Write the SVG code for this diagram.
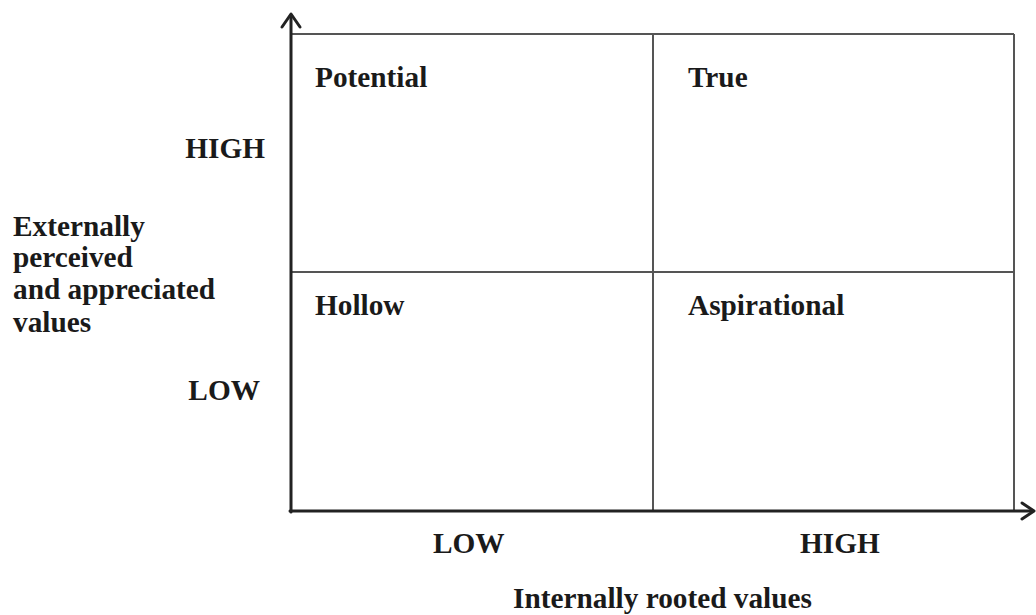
<svg xmlns="http://www.w3.org/2000/svg" width="1036" height="615" viewBox="0 0 1036 615">
<style>
.t{font-family:"Liberation Serif","Times New Roman",serif;font-weight:bold;font-size:29.3px;fill:#1a1a1a}
.g{stroke:#555;stroke-width:2;fill:none}
.ax{stroke:#222;stroke-width:3;fill:none;stroke-linecap:round;stroke-linejoin:round}
</style>
<rect width="1036" height="615" fill="#fff"/>
<g id="grid">
<line class="g" x1="291" y1="34" x2="1014" y2="34"/>
<line class="g" x1="1014" y1="34" x2="1014" y2="511"/>
<line class="g" x1="291" y1="272" x2="1014" y2="272"/>
<line class="g" x1="653" y1="34" x2="653" y2="511"/>
</g>
<g id="connectors">
<line class="ax" x1="291" y1="512" x2="291" y2="15"/>
<polyline class="ax" points="282,27 291,14 300,27"/>
<line class="ax" x1="290" y1="511" x2="1032" y2="511"/>
<polyline class="ax" points="1022,503 1034,511 1022,519"/>
</g>
<g id="potential"><text class="t" x="315" y="87">Potential</text></g>
<g id="true"><text class="t" x="688" y="87">True</text></g>
<g id="hollow"><text class="t" x="315" y="315">Hollow</text></g>
<g id="aspirational"><text class="t" x="688" y="315">Aspirational</text></g>
<g id="y-labels">
<text class="t" x="265" y="158" text-anchor="end">HIGH</text>
<text class="t" x="260" y="400" text-anchor="end">LOW</text>
<text class="t" x="13" y="236">Externally</text>
<text class="t" x="13" y="267">perceived</text>
<text class="t" x="13" y="299">and appreciated</text>
<text class="t" x="13" y="332">values</text>
</g>
<g id="x-labels">
<text class="t" x="433" y="553">LOW</text>
<text class="t" x="800" y="553">HIGH</text>
<text class="t" x="513" y="608">Internally rooted values</text>
</g>
</svg>
